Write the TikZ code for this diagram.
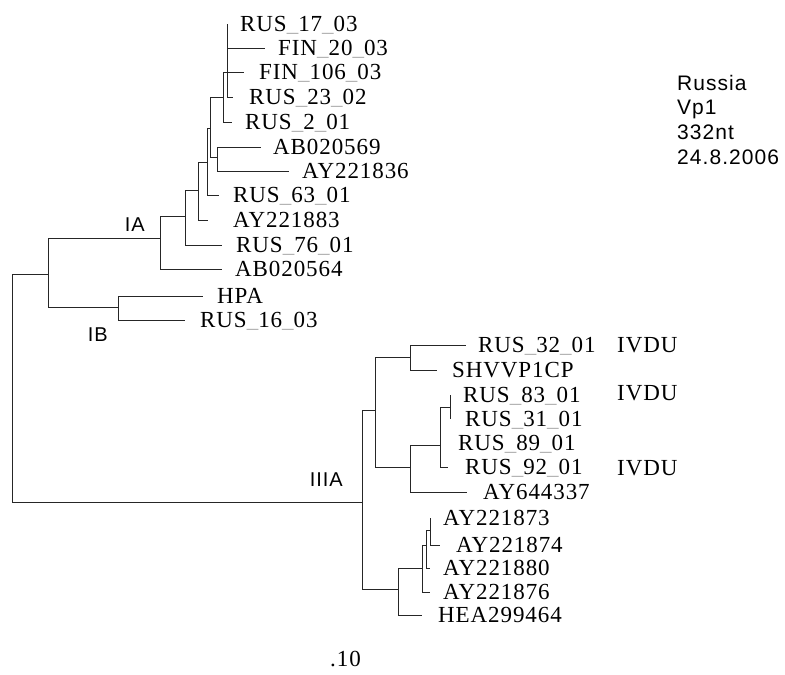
\documentclass[tikz,border=0pt]{standalone}
\usepackage{fontspec}
\usepackage{tikz}
\usetikzlibrary{positioning}
\newfontfamily\taxfont[LetterSpace=4]{Liberation Serif}
\newfontfamily\infofont[LetterSpace=5]{Liberation Sans}
\newcommand\us{{\color{black!30}\_}}
\tikzset{
    branch/.style={
        line width=1pt,
        black!85
    },
    % leaf names
    taxon/.style={
        anchor=base west,
        inner sep=0pt,
        yshift=-7.8pt,
        font=\taxfont\fontsize{23}{25}\selectfont
    },
    clade/.style={
        anchor=base east,
        inner sep=0pt,
        yshift=-7pt,
        font=\infofont\fontsize{20}{22}\selectfont
    },
    info/.style={
        anchor=base west,
        inner sep=0pt,
        yshift=-7.5pt,
        font=\infofont\fontsize{21}{23}\selectfont
    }
}

\begin{document}
\begin{tikzpicture}[x=1pt,y=-1pt]
\useasboundingbox (0,0) rectangle (785,675);

% inner nodes, genotype I
\path
    (12,274) coordinate (root)
    (48,274) coordinate (nI)
    (160,238) coordinate (nIA)
    (185,216) coordinate (n1)
    (198,190) coordinate (n2)
    (207,162) coordinate (n3)
    (210,128) coordinate (n4)
    (223,97) coordinate (n5)
    (227,72) coordinate (n6)
    (217,157) coordinate (n7)
    (118,307) coordinate (nIB);

% inner nodes, genotype III
\path
    (362,502) coordinate (nIII)
    (375,410) coordinate (m1)
    (410,357) coordinate (m3)
    (410,467) coordinate (m4)
    (440,445) coordinate (m5)
    (450,407) coordinate (m6)
    (398,589) coordinate (m2)
    (422,568) coordinate (m7)
    (426,545) coordinate (m8)
    (430,530) coordinate (m9);

% leaf tips
\path
    (227,24) coordinate (t1)
    (265,48) coordinate (t2)
    (244,72) coordinate (t3)
    (233,97) coordinate (t4)
    (232,122) coordinate (t5)
    (261,147) coordinate (t6)
    (289,171) coordinate (t7)
    (219,195) coordinate (t8)
    (208,220) coordinate (t9)
    (222,245) coordinate (t10)
    (222,269) coordinate (t11)
    (203,296) coordinate (t12)
    (185,320) coordinate (t13);
\path
    (466,345) coordinate (s1)
    (437,370) coordinate (s2)
    (450,395) coordinate (s3)
    (450,419) coordinate (s4)
    (440,443) coordinate (s5)
    (448,467) coordinate (s6)
    (467,492) coordinate (s7)
    (430,518) coordinate (s8)
    (440,545) coordinate (s9)
    (430,568) coordinate (s10)
    (430,592) coordinate (s11)
    (422,615) coordinate (s12);

% branches
\draw[branch] (root) |- (nI) (root) |- (nIII);
\draw[branch] (nI) |- (nIA) (nI) |- (nIB);
\draw[branch] (nIA) |- (n1) (nIA) |- (t11);
\draw[branch] (n1) |- (n2) (n1) |- (t10);
\draw[branch] (n2) |- (n3) (n2) |- (t9);
\draw[branch] (n3) |- (n4) (n3) |- (t8);
\draw[branch] (n4) |- (n5) (n4) |- (n7);
\draw[branch] (n5) |- (n6) (n5) |- (t5);
\draw[branch] (n6) |- (t1) (n6) |- (t2) (n6) |- (t3) (n6) |- (t4);
\draw[branch] (n7) |- (t6) (n7) |- (t7);
\draw[branch] (nIB) |- (t12) (nIB) |- (t13);

\draw[branch] (nIII) |- (m1) (nIII) |- (m2);
\draw[branch] (m1) |- (m3) (m1) |- (m4);
\draw[branch] (m3) |- (s1) (m3) |- (s2);
\draw[branch] (m4) |- (m5) (m4) |- (s7);
\draw[branch] (m5) |- (m6) (m5) |- (s5) (m5) |- (s6);
\draw[branch] (m6) |- (s3) (m6) |- (s4);
\draw[branch] (m2) |- (m7) (m2) |- (s12);
\draw[branch] (m7) |- (m8) (m7) |- (s11);
\draw[branch] (m8) |- (m9) (m8) |- (s10);
\draw[branch] (m9) |- (s8) (m9) |- (s9);

% leaf names
\node[taxon] (l1) at (240,24) {RUS\us17\us03};
\node[taxon] (l2) at (278,48) {FIN\us20\us03};
\node[taxon] (l3) at (259,72) {FIN\us106\us03};
\node[taxon] (l4) at (249,97) {RUS\us23\us02};
\node[taxon] (l5) at (245,122) {RUS\us2\us01};
\node[taxon] (l6) at (273,147) {AB020569};
\node[taxon] (l7) at (302,171) {AY221836};
\node[taxon] (l8) at (233,195) {RUS\us63\us01};
\node[taxon] (l9) at (233,220) {AY221883};
\node[taxon] (l10) at (236,245) {RUS\us76\us01};
\node[taxon] (l11) at (235,269) {AB020564};
\node[taxon] (l12) at (217,296) {HPA};
\node[taxon] (l13) at (200,320) {RUS\us16\us03};

\node[taxon] (k1) at (478,345) {RUS\us32\us01};
\node[taxon] (k2) at (452,370) {SHVVP1CP};
\node[taxon] (k3) at (463,395) {RUS\us83\us01};
\node[taxon] (k4) at (465,419) {RUS\us31\us01};
\node[taxon] (k5) at (458,443) {RUS\us89\us01};
\node[taxon] (k6) at (465,467) {RUS\us92\us01};
\node[taxon] (k7) at (483,492) {AY644337};
\node[taxon] (k8) at (443,518) {AY221873};
\node[taxon] (k9) at (456,545) {AY221874};
\node[taxon] (k10) at (443,568) {AY221880};
\node[taxon] (k11) at (443,592) {AY221876};
\node[taxon] (k12) at (438,615) {HEA299464};

\node[taxon] (v1) at (617,345) {IVDU};
\node[taxon] (v2) at (617,393) {IVDU};
\node[taxon] (v3) at (617,468) {IVDU};

% clades
\node[clade] (cIA) at (145,224) {IA};
\node[clade] (cIB) at (108,334) {IB};
\node[clade] (cIII) at (343,479) {IIIA};

% scale and data
\node[taxon] (scale) at (330,659) {.10};
\node[info] (country) at (677,83) {Russia};
\node[info] (gene) at (677,107) {Vp1};
\node[info] (len) at (677,132) {332nt};
\node[info] (date) at (677,157) {24.8.2006};
\end{tikzpicture}
\end{document}
